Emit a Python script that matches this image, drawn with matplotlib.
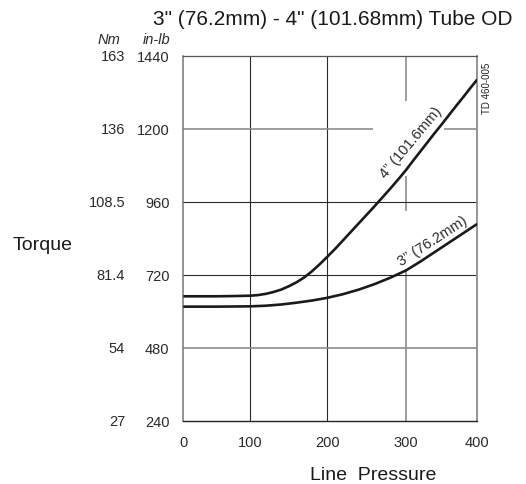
import numpy as np
import matplotlib
matplotlib.use("Agg")
import matplotlib.pyplot as plt
from matplotlib.patches import Rectangle

plt.rcParams['font.family'] = ['Liberation Sans', 'DejaVu Sans']

# ---- data ----
x_ticks = [0, 100, 200, 300, 400]
# relative positions of the (unevenly spaced) pressure grid lines in the original
x_tick_frac = [0.0, 0.2279, 0.4898, 0.7575, 1.0]
inlb_ticks = [240, 480, 720, 960, 1200, 1440]
nm_labels = ["27", "54", "81.4", "108.5", "136", "163"]

p4 = [0, 50, 80, 100, 110, 120, 130, 140, 150, 160, 170, 180, 190, 200, 210, 220,
      230, 240, 250, 260, 270, 280, 290, 300, 310, 320, 330, 340, 350, 360, 370,
      380, 390, 400]
t4 = [649, 649, 650, 651, 653, 657, 663, 671, 682, 695, 711, 731, 754, 779, 805, 833,
      861, 889, 917, 945, 974, 1003, 1033, 1064, 1095, 1125, 1155, 1185, 1214, 1244, 1274,
      1303, 1333, 1362]

p3 = [0, 50, 100, 120, 140, 160, 180, 200, 220, 240, 260, 280, 300, 320, 340, 360,
      380, 400]
t3 = [615, 615, 616, 618, 622, 628, 635, 644, 656, 671, 689, 710, 734, 763, 794, 825,
      856, 887]

dark_v = [100, 200]
gray_v = [300]
dark_h = [720, 960]
gray_h = [480, 1200]

fig = plt.figure(figsize=(5.26, 4.85), dpi=100)
W, H = 526, 485
L, R, T, B = 183.3, 477.3, 56.7, 421.7
ax = fig.add_axes([L / W, 1 - B / H, (R - L) / W, (B - T) / H])

fwd = lambda v: np.interp(v, x_ticks, x_tick_frac)
inv = lambda v: np.interp(v, x_tick_frac, x_ticks)
ax.set_xscale('function', functions=(fwd, inv))
ax.set_xlim(0, 400)
ax.set_ylim(240, 1440)
ax.set_xticks(x_ticks)
ax.set_xticklabels([str(v) for v in x_ticks])
ax.set_yticks(inlb_ticks)
ax.set_yticklabels([str(v) for v in inlb_ticks])
ax.xaxis.set_minor_locator(matplotlib.ticker.NullLocator())
ax.tick_params(axis='both', length=0, labelsize=10.5, labelcolor='#2a2a2a')
ax.tick_params(axis='y', pad=10)
ax.tick_params(axis='x', pad=10)

for v in dark_v:
    ax.axvline(v, color='#2a2a2a', lw=0.8, zorder=1)
for v in gray_v:
    ax.axvline(v, color='#8c8c8c', lw=1.2, zorder=1)
for v in dark_h:
    ax.axhline(v, color='#2a2a2a', lw=0.8, zorder=1)
for v in gray_h:
    ax.axhline(v, color='#8c8c8c', lw=1.2, zorder=1)

ax.spines['top'].set_color('#555555')
ax.spines['top'].set_linewidth(0.9)
ax.spines['bottom'].set_color('#222222')
ax.spines['bottom'].set_linewidth(1.0)
ax.spines['left'].set_color('#777777')
ax.spines['left'].set_linewidth(1.1)
ax.spines['right'].set_color('#8c8c8c')
ax.spines['right'].set_linewidth(1.3)

# white cut-outs behind the curve labels
ax.add_patch(Rectangle((0.645, 0.670), 0.242, 0.206, transform=ax.transAxes,
                       facecolor='white', edgecolor='none', zorder=2))
ax.add_patch(Rectangle((0.669, 0.416), 0.306, 0.159, transform=ax.transAxes,
                       facecolor='white', edgecolor='none', zorder=2))

ax.plot(p4, t4, color='#1a1a1a', lw=1.9, zorder=3, solid_capstyle='butt',
        solid_joinstyle='round')
ax.plot(p3, t3, color='#1a1a1a', lw=1.9, zorder=3, solid_capstyle='butt',
        solid_joinstyle='round')

ax.text(0.7745, 0.765, "4\u201d (101.6mm)", transform=ax.transAxes, rotation=50,
        ha='center', va='center', fontsize=10.5, color='#2a2a2a', zorder=4,
        rotation_mode='anchor')
ax.text(0.8476, 0.493, "3\u201d (76.2mm)", transform=ax.transAxes, rotation=33,
        ha='center', va='center', fontsize=10.5, color='#2a2a2a', zorder=4,
        rotation_mode='anchor')

# Nm column
for v, lab in zip(inlb_ticks, nm_labels):
    ax.annotate(lab, xy=(0, v), xycoords=('axes fraction', 'data'),
                xytext=(125 - L, 0), textcoords='offset pixels',
                ha='right', va='center', fontsize=10.5, color='#2a2a2a',
                annotation_clip=False)

ax.annotate("Nm", xy=(0, 1), xycoords='axes fraction', xytext=(120 - L, T - 40),
            textcoords='offset pixels', ha='right', va='center', fontsize=10.5,
            style='italic', color='#2a2a2a', annotation_clip=False)
ax.annotate("in-lb", xy=(0, 1), xycoords='axes fraction', xytext=(170 - L, T - 40),
            textcoords='offset pixels', ha='right', va='center', fontsize=10.5,
            style='italic', color='#2a2a2a', annotation_clip=False)

fig.text(486.7 / W, 1 - 88 / H, "TD 460-005", rotation=90, ha='center', va='center',
         fontsize=7, color='#222222')

fig.text(332.5 / W, 1 - 25 / H, "3\" (76.2mm) - 4\" (101.68mm) Tube OD",
         ha='center', va='baseline', fontsize=15, color='#1a1a1a')
fig.text(13 / W, 1 - 250 / H, "Torque", ha='left', va='baseline', fontsize=14,
         color='#1a1a1a')
fig.text(373.3 / W, 1 - 480 / H, "Line  Pressure", ha='center', va='baseline',
         fontsize=14, color='#1a1a1a')

fig.savefig("out.png", dpi=100)
